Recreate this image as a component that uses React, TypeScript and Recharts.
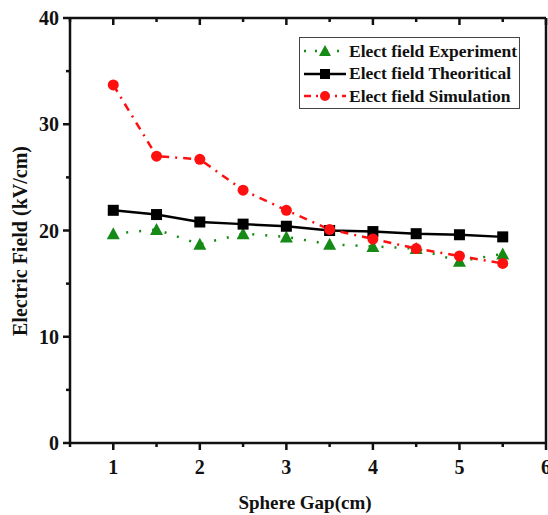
import React from "react"
import { LineChart, Line, XAxis, YAxis, Legend } from "recharts"

const gap = [1, 1.5, 2, 2.5, 3, 3.5, 4, 4.5, 5, 5.5]
const experiment = [19.7, 20.1, 18.7, 19.7, 19.4, 18.7, 18.5, 18.3, 17.1, 17.8]
const theoretical = [21.9, 21.5, 20.8, 20.6, 20.4, 20.0, 19.9, 19.7, 19.6, 19.4]
const simulation = [33.7, 27.0, 26.7, 23.8, 21.9, 20.1, 19.2, 18.3, 17.6, 16.9]

const xTicks = [0.5, 1, 1.5, 2, 2.5, 3, 3.5, 4, 4.5, 5, 5.5, 6]
const yTicks = [0, 5, 10, 15, 20, 25, 30, 35, 40]

const data = gap.map((g, i) => ({
  gap: g,
  experiment: experiment[i],
  theoretical: theoretical[i],
  simulation: simulation[i],
}))

const FONT = '"Liberation Serif", "Times New Roman", serif'
const GREEN = "#168a16"
const RED = "#ff1010"
const AXIS = "#111"

type TickProps = { x?: number; y?: number; payload?: { value: number } }

function makeTick(side: "bottom" | "left" | "top" | "right", step: number, labels: boolean) {
  return (props: TickProps) => {
    const x = props.x ?? 0
    const y = props.y ?? 0
    const v = props.payload?.value ?? 0
    const major = Math.abs(v / step - Math.round(v / step)) < 1e-6
    const len = major ? 7 : 4
    let line = null
    if (side === "bottom") line = <line x1={x} y1={y} x2={x} y2={y + len} />
    if (side === "top") line = <line x1={x} y1={y} x2={x} y2={y + len} />
    if (side === "left") line = <line x1={x} y1={y} x2={x - len} y2={y} />
    if (side === "right") line = <line x1={x} y1={y} x2={x - len} y2={y} />
    return (
      <g>
        <g stroke={AXIS} strokeWidth={2.5}>{line}</g>
        {labels && major && side === "bottom" && (
          <text x={x} y={y + 31} textAnchor="middle" fontFamily={FONT} fontWeight="bold" fontSize={20} fill={AXIS}>
            {v}
          </text>
        )}
        {labels && major && side === "left" && (
          <text x={x - 11} y={y + 7} textAnchor="end" fontFamily={FONT} fontWeight="bold" fontSize={20} fill={AXIS}>
            {v}
          </text>
        )}
      </g>
    )
  }
}

type DotProps = { cx?: number; cy?: number; index?: number }

const Triangle = ({ cx = 0, cy = 0, index }: DotProps) => (
  <polygon key={index} points={`${cx},${cy - 6.5} ${cx - 6.5},${cy + 5.5} ${cx + 6.5},${cy + 5.5}`} fill={GREEN} />
)
const Square = ({ cx = 0, cy = 0, index }: DotProps) => (
  <rect key={index} x={cx - 5.5} y={cy - 5.5} width={11} height={11} fill="#000" />
)
const Circle = ({ cx = 0, cy = 0, index }: DotProps) => (
  <circle key={index} cx={cx} cy={cy} r={5.5} fill={RED} />
)

function LegendBox() {
  const rows = [
    { label: "Elect field Experiment", color: GREEN, dash: "2 9", marker: <polygon points="23,4 17,15 29,15" fill={GREEN} /> },
    { label: "Elect field Theoritical", color: "#000", dash: undefined, marker: <rect x={18} y={5} width={10} height={10} fill="#000" /> },
    { label: "Elect field Simulation", color: RED, dash: "7 5 2 5", marker: <circle cx={23} cy={10} r={5} fill={RED} /> },
  ]
  return (
    <div
      style={{
        border: "1.5px solid #444",
        background: "#fff",
        width: 221,
        height: 72,
        padding: "2px 0 0 2px",
        boxSizing: "border-box",
      }}
    >
      {rows.map((r) => (
        <div key={r.label} style={{ display: "flex", alignItems: "center", height: 22.5 }}>
          <svg width={46} height={20}>
            <line x1={2} y1={10} x2={44} y2={10} stroke={r.color} strokeWidth={2.5} strokeDasharray={r.dash} />
            {r.marker}
          </svg>
          <span
            style={{
              fontFamily: FONT,
              fontWeight: "bold",
              fontSize: 17.5,
              color: "#111",
              marginLeft: 1,
              whiteSpace: "nowrap",
            }}
          >
            {r.label}
          </span>
        </div>
      ))}
    </div>
  )
}

export default function App() {
  return (
    <div style={{ position: "absolute", left: 0, top: 0, background: "#fff" }}>
      <LineChart width={548} height={515} data={data} margin={{ top: 18, right: 2, bottom: 71, left: 69 }}>
        <XAxis
          xAxisId="b"
          dataKey="gap"
          type="number"
          domain={[0.5, 6]}
          ticks={xTicks}
          height={1}
          tickSize={0}
          tickMargin={0}
          tickLine={false}
          interval={0}
          axisLine={{ stroke: AXIS, strokeWidth: 2.5 }}
          tick={makeTick("bottom", 1, true)}
          label={{
            content: () => (
              <text x={305} y={509} textAnchor="middle" fontFamily={FONT} fontWeight="bold" fontSize={19} fill={AXIS}>
                Sphere Gap(cm)
              </text>
            ),
          }}
        />
        <XAxis
          xAxisId="t"
          orientation="top"
          dataKey="gap"
          type="number"
          domain={[0.5, 6]}
          ticks={xTicks}
          height={1}
          mirror
          tickSize={0}
          tickMargin={0}
          tickLine={false}
          interval={0}
          axisLine={{ stroke: AXIS, strokeWidth: 2.5 }}
          tick={makeTick("top", 1, false)}
        />
        <YAxis
          yAxisId="l"
          type="number"
          domain={[0, 40]}
          ticks={yTicks}
          width={1}
          tickSize={0}
          tickMargin={0}
          tickLine={false}
          interval={0}
          axisLine={{ stroke: AXIS, strokeWidth: 2.5 }}
          tick={makeTick("left", 10, true)}
          label={{
            content: () => (
              <text
                x={0}
                y={0}
                transform="translate(27, 241) rotate(-90)"
                textAnchor="middle"
                fontFamily={FONT}
                fontWeight="bold"
                fontSize={20}
                fill={AXIS}
              >
                Electric Field (kV/cm)
              </text>
            ),
          }}
        />
        <YAxis
          yAxisId="r"
          orientation="right"
          type="number"
          domain={[0, 40]}
          ticks={yTicks}
          width={1}
          mirror
          tickSize={0}
          tickMargin={0}
          tickLine={false}
          interval={0}
          axisLine={{ stroke: AXIS, strokeWidth: 2.5 }}
          tick={makeTick("right", 10, false)}
        />
        <Legend
          layout="horizontal"
          verticalAlign="middle"
          align="center"
          content={() => <LegendBox />}
          wrapperStyle={{ left: 299, top: 37, width: 221, height: 72 }}
        />
        <Line
          xAxisId="b"
          yAxisId="l"
          dataKey="experiment"
          name="Elect field Experiment"
          stroke={GREEN}
          strokeWidth={2.5}
          strokeDasharray="2 11"
          dot={Triangle}
          isAnimationActive={false}
        />
        <Line
          xAxisId="b"
          yAxisId="l"
          dataKey="theoretical"
          name="Elect field Theoritical"
          stroke="#000"
          strokeWidth={2.5}
          dot={Square}
          isAnimationActive={false}
        />
        <Line
          xAxisId="b"
          yAxisId="l"
          dataKey="simulation"
          name="Elect field Simulation"
          stroke={RED}
          strokeWidth={2.5}
          strokeDasharray="8 6 2 6"
          dot={Circle}
          isAnimationActive={false}
        />
      </LineChart>
    </div>
  )
}
